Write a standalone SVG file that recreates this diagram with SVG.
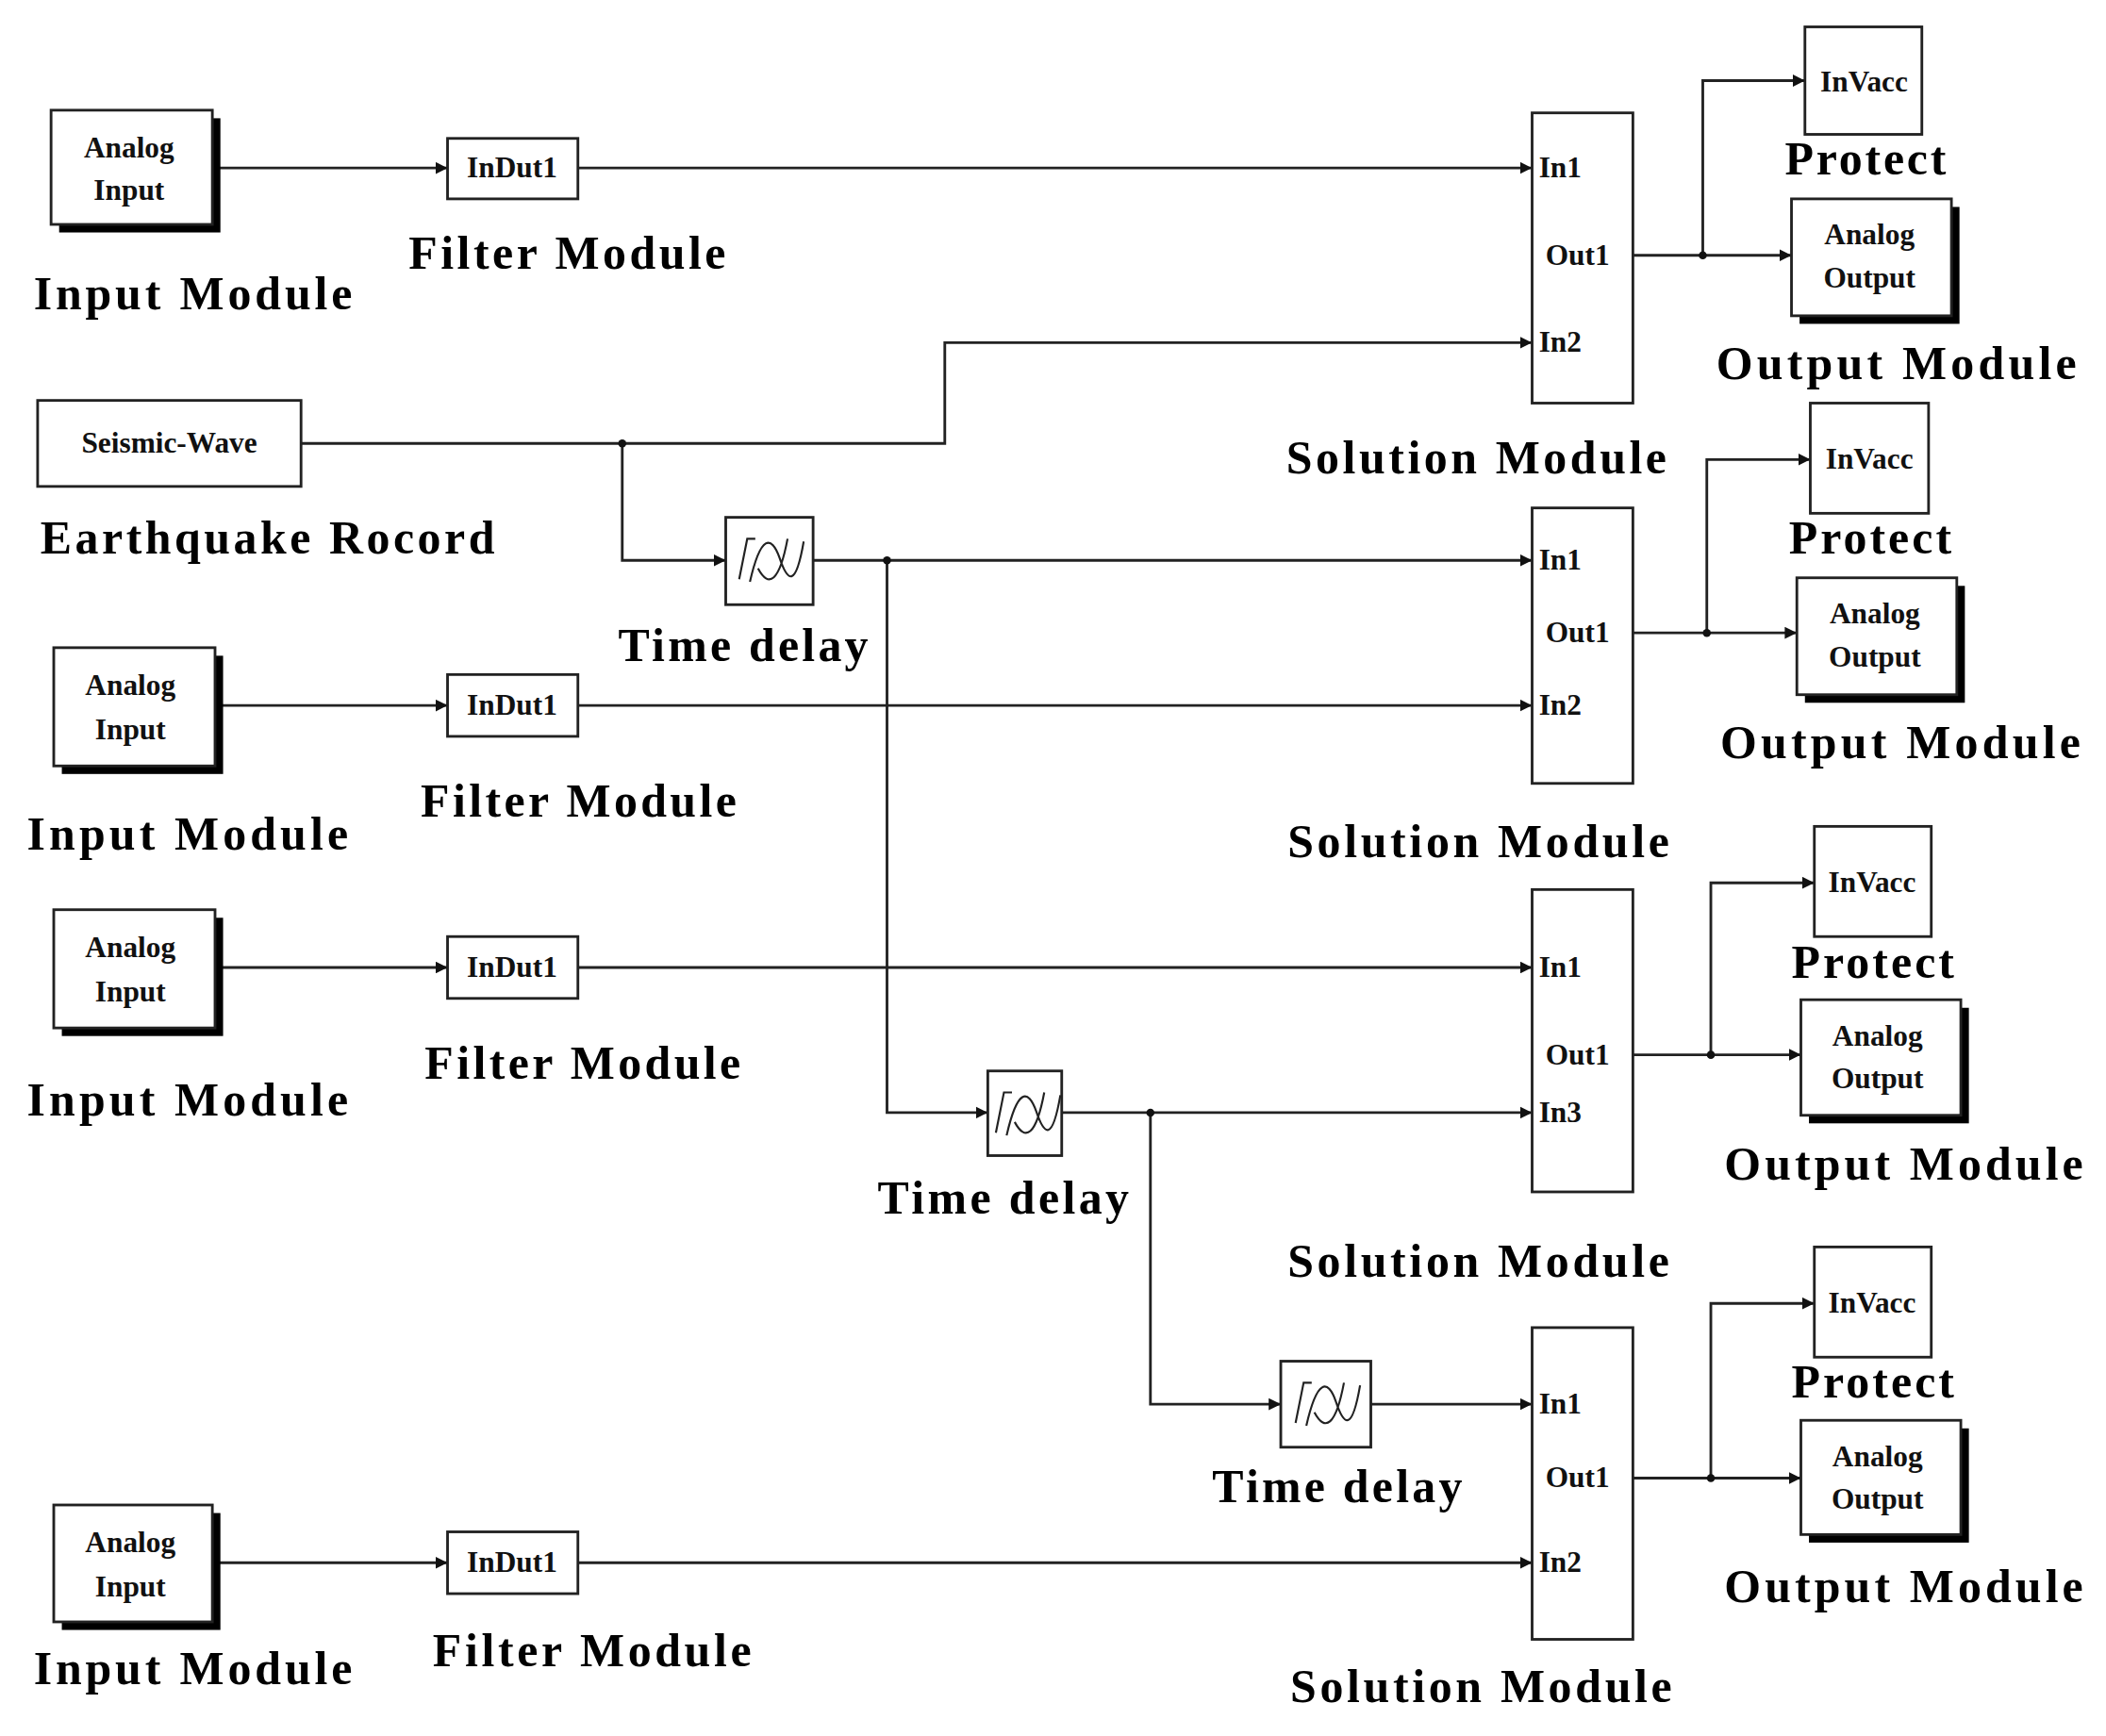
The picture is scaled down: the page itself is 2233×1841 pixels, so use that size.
<svg xmlns="http://www.w3.org/2000/svg" width="2233" height="1841" viewBox="0 0 2233 1841">
<style>
.b{fill:#fff;stroke:#222;stroke-width:2}
.sh{fill:#000}
.t{font-family:"Liberation Serif",serif;font-weight:bold;fill:#111;font-size:22px}
.L{font-family:"Liberation Serif",serif;font-weight:bold;fill:#000;font-size:35px}
.w{fill:none;stroke:#222;stroke-width:2}
.d{fill:#111}
</style>
<defs>
<marker id="a" viewBox="0 0 10 10" refX="10" refY="5" markerWidth="9" markerHeight="9" markerUnits="userSpaceOnUse" orient="auto"><path d="M0,0L10,5L0,10z" fill="#111"/></marker>
<g id="wave"><path d="M4,38 L10,8 L16,8 M12,40 C20,5 28,5 34,22 C40,40 46,45 52,10 M18,30 C26,45 34,40 40,8" fill="none" stroke="#222" stroke-width="1.5"/></g>
</defs>
<rect width="2233" height="1841" fill="#fff"/>
<g transform="scale(1.425)">
<g id="connectors" class="w" marker-end="url(#a)">
<path d="M158,125H333"/><path d="M430,125H1140"/>
<path d="M158,525H333"/><path d="M430,525H1140"/>
<path d="M158,720H333"/><path d="M430,720H1140"/>
<path d="M158,1163H333"/><path d="M430,1163H1140"/>
<path d="M224,330H703V255H1140"/>
<path d="M463,330V417H540"/>
<path d="M605,417H1140"/>
<path d="M660,417V828H735"/>
<path d="M790,828H1140"/>
<path d="M856,828V1045H953"/>
<path d="M1020,1045H1140"/>
<path d="M1215,190H1333"/><path d="M1267,190V60H1343"/>
<path d="M1215,471H1337"/><path d="M1270,471V342H1347"/>
<path d="M1215,785H1340"/><path d="M1273,785V657H1350"/>
<path d="M1215,1100H1340"/><path d="M1273,1100V970H1350"/>
</g>
<g id="junctions" class="d">
<circle cx="463" cy="330" r="3"/><circle cx="660" cy="417" r="3"/><circle cx="856" cy="828" r="3"/>
<circle cx="1267" cy="190" r="3"/><circle cx="1270" cy="471" r="3"/><circle cx="1273" cy="785" r="3"/><circle cx="1273" cy="1100" r="3"/>
</g>
<g id="input1"><rect class="sh" x="44" y="88" width="120" height="85"/><rect class="b" x="38" y="82" width="120" height="85"/><text class="t" x="96" y="117" text-anchor="middle">Analog</text><text class="t" x="96" y="149" text-anchor="middle">Input</text><text class="L" x="25" y="230" textLength="237">Input Module</text></g>
<g id="input2"><rect class="sh" x="46" y="488" width="120" height="88"/><rect class="b" x="40" y="482" width="120" height="88"/><text class="t" x="97" y="517" text-anchor="middle">Analog</text><text class="t" x="97" y="550" text-anchor="middle">Input</text><text class="L" x="20" y="632" textLength="239">Input Module</text></g>
<g id="input3"><rect class="sh" x="46" y="683" width="120" height="88"/><rect class="b" x="40" y="677" width="120" height="88"/><text class="t" x="97" y="712" text-anchor="middle">Analog</text><text class="t" x="97" y="745" text-anchor="middle">Input</text><text class="L" x="20" y="830" textLength="239">Input Module</text></g>
<g id="input4"><rect class="sh" x="46" y="1126" width="118" height="87"/><rect class="b" x="40" y="1120" width="118" height="87"/><text class="t" x="97" y="1155" text-anchor="middle">Analog</text><text class="t" x="97" y="1188" text-anchor="middle">Input</text><text class="L" x="25" y="1253" textLength="237">Input Module</text></g>
<g id="filter1"><rect class="b" x="333" y="103" width="97" height="45"/><text class="t" x="381" y="132" text-anchor="middle">InDut1</text><text class="L" x="304" y="200" textLength="236">Filter Module</text></g>
<g id="filter2"><rect class="b" x="333" y="502" width="97" height="46"/><text class="t" x="381" y="532" text-anchor="middle">InDut1</text><text class="L" x="313" y="608" textLength="235">Filter Module</text></g>
<g id="filter3"><rect class="b" x="333" y="697" width="97" height="46"/><text class="t" x="381" y="727" text-anchor="middle">InDut1</text><text class="L" x="316" y="803" textLength="235">Filter Module</text></g>
<g id="filter4"><rect class="b" x="333" y="1140" width="97" height="46"/><text class="t" x="381" y="1170" text-anchor="middle">InDut1</text><text class="L" x="322" y="1240" textLength="237">Filter Module</text></g>
<g id="seismic"><rect class="b" x="28" y="298" width="196" height="64"/><text class="t" x="126" y="337" text-anchor="middle">Seismic-Wave</text><text class="L" x="30" y="412" textLength="338">Earthquake Rocord</text></g>
<g id="delay1"><rect class="b" x="540" y="385" width="65" height="65"/><use href="#wave" x="546" y="393"/><text class="L" x="460" y="492" textLength="186">Time delay</text></g>
<g id="delay2"><rect class="b" x="735" y="797" width="55" height="63"/><use href="#wave" x="737" y="805" transform="translate(0,0)"/><text class="L" x="653" y="903" textLength="187">Time delay</text></g>
<g id="delay3"><rect class="b" x="953" y="1013" width="67" height="64"/><use href="#wave" x="960" y="1021"/><text class="L" x="902" y="1118" textLength="186">Time delay</text></g>
<g id="solution1"><rect class="b" x="1140" y="84" width="75" height="216"/><text class="t" x="1145" y="132">In1</text><text class="t" x="1150" y="197">Out1</text><text class="t" x="1145" y="262">In2</text><text class="L" x="957" y="352" textLength="283">Solution Module</text></g>
<g id="solution2"><rect class="b" x="1140" y="378" width="75" height="205"/><text class="t" x="1145" y="424">In1</text><text class="t" x="1150" y="478">Out1</text><text class="t" x="1145" y="532">In2</text><text class="L" x="958" y="638" textLength="284">Solution Module</text></g>
<g id="solution3"><rect class="b" x="1140" y="662" width="75" height="225"/><text class="t" x="1145" y="727">In1</text><text class="t" x="1150" y="792">Out1</text><text class="t" x="1145" y="835">In3</text><text class="L" x="958" y="950" textLength="284">Solution Module</text></g>
<g id="solution4"><rect class="b" x="1140" y="988" width="75" height="232"/><text class="t" x="1145" y="1052">In1</text><text class="t" x="1150" y="1107">Out1</text><text class="t" x="1145" y="1170">In2</text><text class="L" x="960" y="1267" textLength="284">Solution Module</text></g>
<g id="protect1"><rect class="b" x="1343" y="20" width="87" height="80"/><text class="t" x="1387" y="68" text-anchor="middle">InVacc</text><text class="L" x="1328" y="130" textLength="120">Protect</text></g>
<g id="protect2"><rect class="b" x="1347" y="300" width="88" height="82"/><text class="t" x="1391" y="349" text-anchor="middle">InVacc</text><text class="L" x="1331" y="412" textLength="121">Protect</text></g>
<g id="protect3"><rect class="b" x="1350" y="615" width="87" height="82"/><text class="t" x="1393" y="664" text-anchor="middle">InVacc</text><text class="L" x="1333" y="728" textLength="121">Protect</text></g>
<g id="protect4"><rect class="b" x="1350" y="928" width="87" height="82"/><text class="t" x="1393" y="977" text-anchor="middle">InVacc</text><text class="L" x="1333" y="1040" textLength="121">Protect</text></g>
<g id="output1"><rect class="sh" x="1339" y="154" width="119" height="87"/><rect class="b" x="1333" y="148" width="119" height="87"/><text class="t" x="1391" y="182" text-anchor="middle">Analog</text><text class="t" x="1391" y="214" text-anchor="middle">Output</text><text class="L" x="1277" y="282" textLength="268">Output Module</text></g>
<g id="output2"><rect class="sh" x="1343" y="436" width="119" height="87"/><rect class="b" x="1337" y="430" width="119" height="87"/><text class="t" x="1395" y="464" text-anchor="middle">Analog</text><text class="t" x="1395" y="496" text-anchor="middle">Output</text><text class="L" x="1280" y="564" textLength="268">Output Module</text></g>
<g id="output3"><rect class="sh" x="1346" y="750" width="119" height="86"/><rect class="b" x="1340" y="744" width="119" height="86"/><text class="t" x="1397" y="778" text-anchor="middle">Analog</text><text class="t" x="1397" y="810" text-anchor="middle">Output</text><text class="L" x="1283" y="878" textLength="267">Output Module</text></g>
<g id="output4"><rect class="sh" x="1346" y="1063" width="119" height="85"/><rect class="b" x="1340" y="1057" width="119" height="85"/><text class="t" x="1397" y="1091" text-anchor="middle">Analog</text><text class="t" x="1397" y="1123" text-anchor="middle">Output</text><text class="L" x="1283" y="1192" textLength="267">Output Module</text></g>
</g>
</svg>
